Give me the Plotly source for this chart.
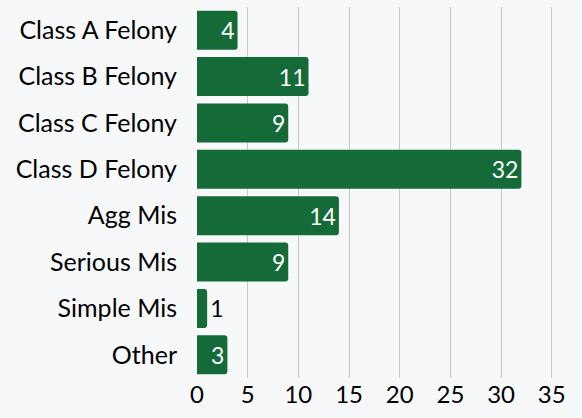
import plotly.graph_objects as go

categories = ["Class A Felony", "Class B Felony", "Class C Felony", "Class D Felony",
              "Agg Mis", "Serious Mis", "Simple Mis", "Other"]
values = [4, 11, 9, 32, 14, 9, 1, 3]
x_ticks = [0, 5, 10, 15, 20, 25, 30, 35]

FONT = "Lato, sans-serif"

fig = go.Figure(go.Bar(
    x=values, y=categories, orientation="h",
    marker=dict(color="#156b38", line=dict(width=0)),
    text=[str(v) for v in values], textposition="auto",
    insidetextanchor="end",
    insidetextfont=dict(color="white", size=23, family=FONT),
    outsidetextfont=dict(color="black", size=23, family=FONT),
    cliponaxis=False,
    hoverinfo="none",
))
fig.update_layout(
    width=582, height=418,
    margin=dict(l=197, r=14, t=7, b=40),
    paper_bgcolor="#f7f8fa", plot_bgcolor="#f7f8fa",
    bargap=0.16, barcornerradius=3,
    font=dict(family=FONT, size=25, color="black"),
    showlegend=False,
    xaxis=dict(range=[0, 36.6], tickvals=x_ticks, showgrid=True, gridcolor="#c8c8c8",
               gridwidth=1, zeroline=False, showline=False, ticks="", fixedrange=True,
               tickfont=dict(size=24)),
    yaxis=dict(autorange="reversed", showgrid=False, zeroline=False, showline=False,
               ticks="outside", ticklen=14, tickcolor="rgba(0,0,0,0)", fixedrange=True,
               tickfont=dict(size=25)),
)
fig.write_html("out.html", config={"displayModeBar": False},
               post_script="document.body.style.margin='0';")
